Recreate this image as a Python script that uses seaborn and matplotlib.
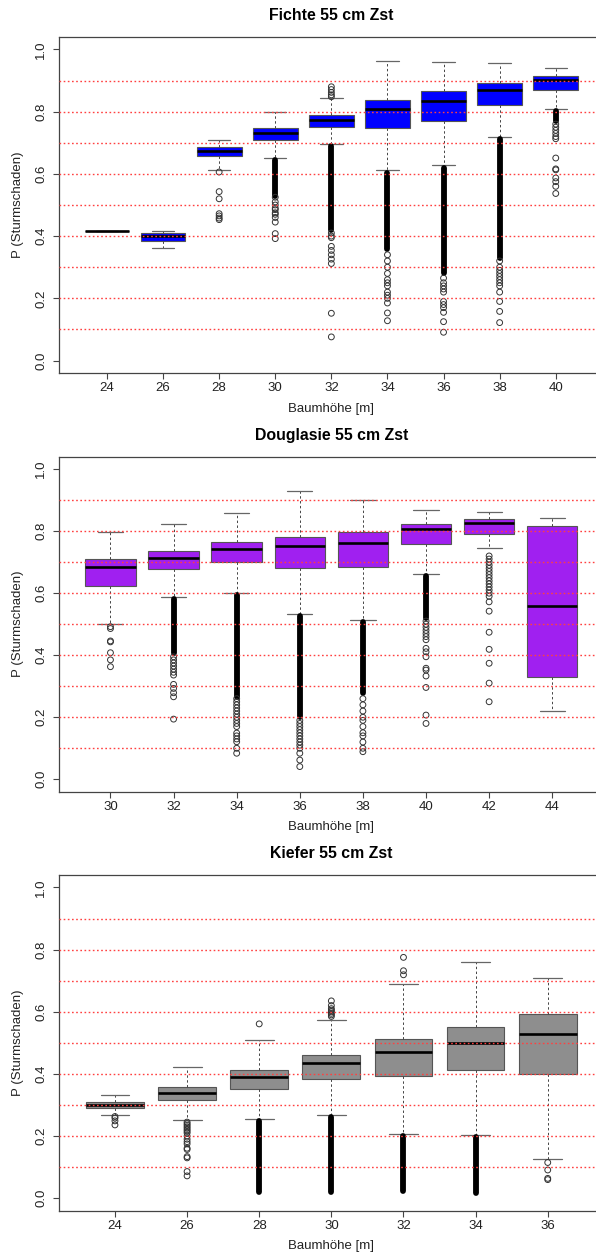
import numpy as np
import pandas as pd
import matplotlib
matplotlib.use("Agg")
import matplotlib.pyplot as plt
import seaborn as sns

# ---------------- data ----------------
# Fichte 55 cm Zst
fi_heights = ["24", "26", "28", "30", "32", "34", "36", "38", "40"]
fi_wlo = [0.418, 0.362, 0.612, 0.651, 0.697, 0.611, 0.627, 0.718, 0.810]
fi_q1 = [0.418, 0.383, 0.657, 0.708, 0.751, 0.747, 0.769, 0.821, 0.871]
fi_med = [0.418, 0.399, 0.673, 0.730, 0.772, 0.809, 0.834, 0.869, 0.901]
fi_q3 = [0.418, 0.410, 0.688, 0.747, 0.789, 0.838, 0.865, 0.892, 0.915]
fi_whi = [0.418, 0.415, 0.710, 0.800, 0.843, 0.964, 0.960, 0.955, 0.939]
fi_out = {
    "28": [0.606, 0.543, 0.520, 0.472, 0.465, 0.458, 0.453],
    "30": [0.525, 0.51, 0.50, 0.49, 0.485, 0.475, 0.47, 0.46, 0.445, 0.408, 0.392],
    "32": [0.880, 0.871, 0.862, 0.854, 0.848, 0.41, 0.40, 0.395, 0.367, 0.354,
           0.340, 0.326, 0.312, 0.152, 0.076],
    "34": [0.34, 0.32, 0.30, 0.28, 0.26, 0.25, 0.24, 0.22, 0.21, 0.20, 0.185,
           0.153, 0.128],
    "36": [0.265, 0.25, 0.24, 0.23, 0.22, 0.19, 0.18, 0.17, 0.155, 0.125, 0.091],
    "38": [0.32, 0.30, 0.29, 0.28, 0.27, 0.26, 0.25, 0.24, 0.22, 0.19, 0.158, 0.122],
    "40": [0.76, 0.75, 0.74, 0.73, 0.72, 0.713, 0.651, 0.616, 0.613, 0.587,
           0.575, 0.560, 0.537],
}
fi_dense = {"30": (0.53, 0.645), "32": (0.42, 0.690), "34": (0.36, 0.604),
            "36": (0.28, 0.620), "38": (0.33, 0.711), "40": (0.77, 0.803)}

# Douglasie 55 cm Zst
do_heights = ["30", "32", "34", "36", "38", "40", "42", "44"]
do_wlo = [0.500, 0.588, 0.601, 0.533, 0.513, 0.663, 0.746, 0.220]
do_q1 = [0.624, 0.677, 0.699, 0.682, 0.685, 0.759, 0.791, 0.329]
do_med = [0.684, 0.714, 0.742, 0.752, 0.762, 0.808, 0.825, 0.559]
do_q3 = [0.710, 0.736, 0.764, 0.782, 0.798, 0.824, 0.840, 0.816]
do_whi = [0.797, 0.824, 0.859, 0.930, 0.900, 0.868, 0.862, 0.841]
do_out = {
    "30": [0.492, 0.486, 0.446, 0.443, 0.408, 0.385, 0.363],
    "32": [0.395, 0.385, 0.375, 0.365, 0.355, 0.345, 0.336, 0.306, 0.293,
           0.279, 0.266, 0.194],
    "34": [0.26, 0.25, 0.24, 0.23, 0.22, 0.21, 0.20, 0.19, 0.18, 0.17, 0.149,
           0.14, 0.13, 0.121, 0.10, 0.084],
    "36": [0.19, 0.18, 0.17, 0.16, 0.15, 0.14, 0.13, 0.12, 0.11, 0.10, 0.084,
           0.062, 0.041],
    "38": [0.26, 0.24, 0.22, 0.20, 0.19, 0.17, 0.15, 0.14, 0.12, 0.10, 0.089],
    "40": [0.51, 0.50, 0.49, 0.48, 0.47, 0.46, 0.45, 0.422, 0.411, 0.395,
           0.358, 0.352, 0.333, 0.296, 0.207, 0.180],
    "42": [0.72, 0.71, 0.70, 0.69, 0.68, 0.67, 0.66, 0.65, 0.64, 0.63, 0.62,
           0.61, 0.60, 0.59, 0.572, 0.542, 0.474, 0.419, 0.374, 0.310, 0.250],
}
do_dense = {"32": (0.406, 0.582), "34": (0.266, 0.595), "36": (0.202, 0.527),
            "38": (0.277, 0.507), "40": (0.52, 0.657)}

# Kiefer 55 cm Zst
ki_heights = ["24", "26", "28", "30", "32", "34", "36"]
ki_wlo = [0.268, 0.253, 0.254, 0.268, 0.207, 0.203, 0.127]
ki_q1 = [0.292, 0.315, 0.351, 0.384, 0.392, 0.412, 0.401]
ki_med = [0.300, 0.338, 0.390, 0.435, 0.472, 0.500, 0.528]
ki_q3 = [0.310, 0.358, 0.414, 0.461, 0.513, 0.551, 0.592]
ki_whi = [0.333, 0.421, 0.510, 0.573, 0.688, 0.759, 0.710]
ki_out = {
    "24": [0.263, 0.258, 0.249, 0.236],
    "26": [0.245, 0.24, 0.235, 0.23, 0.225, 0.22, 0.215, 0.21, 0.20, 0.19,
           0.182, 0.175, 0.161, 0.157, 0.134, 0.130, 0.086, 0.072],
    "28": [0.561],
    "30": [0.635, 0.62, 0.61, 0.605, 0.60, 0.595, 0.59, 0.585],
    "32": [0.775, 0.732, 0.719],
    "36": [0.115, 0.091, 0.064, 0.060],
}
ki_dense = {"28": (0.021, 0.248), "30": (0.021, 0.262), "32": (0.024, 0.201),
            "34": (0.018, 0.197)}

titles = ["Fichte 55 cm Zst", "Douglasie 55 cm Zst", "Kiefer 55 cm Zst"]
fills = ["#0000FF", "#A020F0", "#8E8E8E"]
grid_levels = [0.1, 0.2, 0.3, 0.4, 0.5, 0.6, 0.7, 0.8, 0.9]
ytick_vals = [0.0, 0.2, 0.4, 0.6, 0.8, 1.0]
ytick_labels = ["0.0", "0.2", "0.4", "0.6", "0.8", "1.0"]

panels = [
    (fi_heights, fi_wlo, fi_q1, fi_med, fi_q3, fi_whi, fi_out, fi_dense),
    (do_heights, do_wlo, do_q1, do_med, do_q3, do_whi, do_out, do_dense),
    (ki_heights, ki_wlo, ki_q1, ki_med, ki_q3, ki_whi, ki_out, ki_dense),
]

# ---------------- styling ----------------
sns.set_theme(style="white")
plt.rcParams["font.family"] = ["Liberation Sans", "DejaVu Sans"]

W, H = 596, 1257
fig = plt.figure(figsize=(W / 100, H / 100), dpi=100)

# axes boxes in pixels (left, top, right, bottom) - right edge runs past the figure
rects_px = [(58.7, 37.0, 604.0, 373.0),
            (58.7, 456.7, 604.0, 791.7),
            (58.7, 875.0, 604.0, 1210.7)]

edge = "#555555"
for (heights, wlo, q1, med, q3, whi, outs, dense), title, fill, r in zip(
        panels, titles, fills, rects_px):
    l, t, rr, b = r
    ax = fig.add_axes([l / W, 1 - b / H, (rr - l) / W, (b - t) / H])
    n = len(heights)

    # five-number summaries -> rows (percentiles of 5 values hit q1/med/q3 exactly)
    rows = []
    for i, h in enumerate(heights):
        for v in (wlo[i], q1[i], med[i], q3[i], whi[i]):
            rows.append((h, v))
    df = pd.DataFrame(rows, columns=["Baumhoehe", "P"])

    sns.boxplot(data=df, x="Baumhoehe", y="P", order=heights, ax=ax,
                color=fill, saturation=1, width=0.8, whis=(0, 100),
                showfliers=False, linecolor=edge, linewidth=0.8,
                medianprops=dict(color="black", linewidth=1.9, zorder=3),
                whiskerprops=dict(color="#444444", linestyle=(0, (2.5, 2.5)),
                                  linewidth=0.7),
                capprops=dict(color="#666666", linewidth=0.9),
                boxprops=dict(edgecolor=edge, linewidth=0.8))

    # dense outlier runs (hundreds of overlapping circles in the reference)
    for h, (lo, hi) in dense.items():
        xi = heights.index(h)
        ax.vlines(xi, lo, hi, color="black", linewidth=4.2, zorder=4,
                  capstyle="round")

    # individual outliers as open circles
    ox, oy = [], []
    for h, vals in outs.items():
        ox += [h] * len(vals)
        oy += vals
    nb = len(ax.collections)
    sns.stripplot(x=ox, y=oy, order=heights, ax=ax, jitter=False,
                  size=4.2, color="#222222", linewidth=0.7, zorder=4)
    for coll in ax.collections[nb:]:
        coll.set_facecolor("none")
        coll.set_edgecolor("#333333")
        coll.set_linewidth(0.7)

    # red dotted reference lines drawn on top
    for g in grid_levels:
        ax.axhline(g, color="#FF4040", linestyle=(0, (1.2, 1.8)),
                   linewidth=1.0, zorder=6)

    ax.set_xlim(-0.5 - 0.04 * n, n - 0.5 + 0.04 * n)
    ax.set_ylim(-0.04, 1.04)
    ax.set_yticks(ytick_vals)
    ax.set_yticklabels(ytick_labels, rotation=90, va="center")
    ax.set_xticks(range(n))
    ax.set_xticklabels(heights)
    ax.tick_params(axis="both", which="both", direction="out", length=4.3,
                   width=0.8, color="#444444", labelsize=9.5,
                   labelcolor="#222222", left=True, bottom=True)
    ax.tick_params(axis="x", pad=2.5)
    ax.tick_params(axis="y", pad=4)
    for name, s in ax.spines.items():
        s.set_color("#444444")
        s.set_linewidth(0.9)
        s.set_visible(name != "right")
    ax.set_xlabel("Baumhöhe [m]", fontsize=9.5, labelpad=6, color="#222222")
    ax.set_ylabel("P (Sturmschaden)", fontsize=9.5, labelpad=8, color="#222222")
    ax.set_title(title, fontsize=11.4, fontweight="bold", pad=12, color="black")
    ax.grid(False)

fig.savefig("out.png", dpi=100)
